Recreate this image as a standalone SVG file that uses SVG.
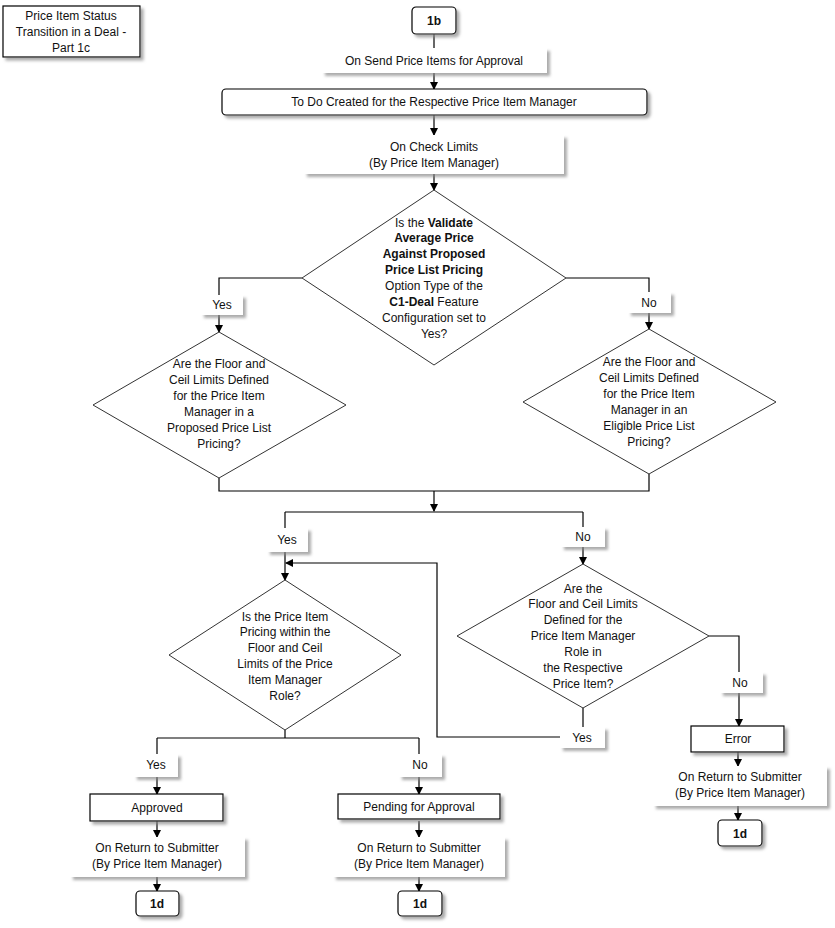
<svg xmlns="http://www.w3.org/2000/svg" width="835" height="928" viewBox="0 0 835 928">
<defs>
<filter id="sh" x="-10%" y="-20%" width="130%" height="160%">
<feDropShadow dx="3" dy="3" stdDeviation="1.5" flood-color="#888" flood-opacity="0.7"/>
</filter>
<marker id="ah" markerWidth="8" markerHeight="8" refX="7" refY="4" orient="auto" markerUnits="userSpaceOnUse">
<path d="M0,0 L8,4 L0,8 Z" fill="#000"/>
</marker>
<style>
text{font-family:"Liberation Sans",Arial,sans-serif;font-size:12px;fill:#111;text-anchor:middle}
.b{font-weight:bold}
.box{fill:#fff;stroke:#000;stroke-width:1.2}
.tb{fill:#fff;stroke:none}
.lb{fill:#fff;stroke:none}
.dia{fill:#fff;stroke:#333;stroke-width:1}
.c{fill:none;stroke:#000;stroke-width:1.2}
.ca{fill:none;stroke:#000;stroke-width:1.2;marker-end:url(#ah)}
</style>
</defs>
<rect width="835" height="928" fill="#fff"/>

<g id="connectors">
<path class="c" d="M434,34 V48"/>
<path class="ca" d="M434,73 V89"/>
<path class="ca" d="M434,115 V135"/>
<path class="ca" d="M434,174 V190"/>
<path class="ca" d="M302,278 H219 V332"/>
<path class="ca" d="M566,278 H649 V329"/>
<path class="c" d="M219,478 V491 H649 V474"/>
<path class="ca" d="M434,491 V511"/>
<path class="c" d="M285,512 H583"/>
<path class="ca" d="M285,512 V580"/>
<path class="ca" d="M583,512 V564"/>
<path class="ca" d="M560,737 H437 V563 H286"/>
<path class="c" d="M583,708 V727"/>
<path class="ca" d="M709,636 H739 V726"/>
<path class="ca" d="M738,752 V766"/>
<path class="ca" d="M738,806 V820"/>
<path class="c" d="M285,730 V738"/>
<path class="c" d="M157,738 H419"/>
<path class="ca" d="M157,738 V794"/>
<path class="ca" d="M419,738 V794"/>
<path class="ca" d="M157,821 V837"/>
<path class="ca" d="M157,877 V891"/>
<path class="ca" d="M419,821 V837"/>
<path class="ca" d="M419,877 V891"/>
</g>

<g id="title">
<rect class="box" x="3" y="6" width="137" height="51" filter="url(#sh)"/>
<text x="71" y="20">Price Item Status</text>
<text x="71" y="36">Transition in a Deal -</text>
<text x="71" y="52">Part 1c</text>
</g>

<g id="n1b">
<rect class="box" x="412" y="7" width="44" height="27" rx="4" filter="url(#sh)"/>
<text class="b" x="434" y="25">1b</text>
</g>

<g id="send">
<rect class="tb" x="322" y="48" width="225" height="25" filter="url(#sh)"/>
<text x="434" y="65">On Send Price Items for Approval</text>
</g>

<g id="todo">
<rect class="box" x="222" y="89" width="425" height="26" rx="4" filter="url(#sh)"/>
<text x="434" y="106">To Do Created for the Respective Price Item Manager</text>
</g>

<g id="check">
<rect class="tb" x="304" y="135" width="260" height="39" filter="url(#sh)"/>
<text x="434" y="151">On Check Limits</text>
<text x="434" y="167">(By Price Item Manager)</text>
</g>

<g id="d1">
<polygon class="dia" points="434,190 566,278 434,365 302,278"/>
<text x="434" y="227">Is the <tspan class="b">Validate</tspan></text>
<text class="b" x="434" y="242">Average Price</text>
<text class="b" x="434" y="258">Against Proposed</text>
<text class="b" x="434" y="274">Price List Pricing</text>
<text x="434" y="290">Option Type of the</text>
<text x="434" y="306"><tspan class="b">C1-Deal</tspan> Feature</text>
<text x="434" y="322">Configuration set to</text>
<text x="434" y="338">Yes?</text>
</g>

<g id="l-yes1">
<rect class="lb" x="201" y="295" width="42" height="20" filter="url(#sh)"/>
<text x="222" y="309">Yes</text>
</g>
<g id="l-no1">
<rect class="lb" x="628" y="292" width="43" height="21" filter="url(#sh)"/>
<text x="649" y="307">No</text>
</g>

<g id="d2l">
<polygon class="dia" points="219,332 346,405 219,478 93,405"/>
<text x="219" y="368">Are the Floor and</text>
<text x="219" y="384">Ceil Limits Defined</text>
<text x="219" y="400">for the Price Item</text>
<text x="219" y="416">Manager in a</text>
<text x="219" y="432">Proposed Price List</text>
<text x="219" y="448">Pricing?</text>
</g>

<g id="d2r">
<polygon class="dia" points="649,329 776,402 649,474 523,402"/>
<text x="649" y="366">Are the Floor and</text>
<text x="649" y="382">Ceil Limits Defined</text>
<text x="649" y="398">for the Price Item</text>
<text x="649" y="414">Manager in an</text>
<text x="649" y="430">Eligible Price List</text>
<text x="649" y="446">Pricing?</text>
</g>

<g id="l-yes2">
<rect class="lb" x="267" y="528" width="41" height="24" filter="url(#sh)"/>
<text x="287" y="544">Yes</text>
</g>
<g id="l-no2">
<rect class="lb" x="561" y="527" width="44" height="20" filter="url(#sh)"/>
<text x="583" y="541">No</text>
</g>

<g id="d3">
<polygon class="dia" points="285,580 401,655 285,730 169,655"/>
<text x="285" y="621">Is the Price Item</text>
<text x="285" y="636">Pricing within the</text>
<text x="285" y="652">Floor and Ceil</text>
<text x="285" y="668">Limits of the Price</text>
<text x="285" y="684">Item Manager</text>
<text x="285" y="700">Role?</text>
</g>

<g id="d4">
<polygon class="dia" points="583,564 709,636 583,708 457,636"/>
<text x="583" y="593">Are the</text>
<text x="583" y="608">Floor and Ceil Limits</text>
<text x="583" y="624">Defined for the</text>
<text x="583" y="640">Price Item Manager</text>
<text x="583" y="656">Role in</text>
<text x="583" y="672">the Respective</text>
<text x="583" y="688">Price Item?</text>
</g>

<g id="l-yes4">
<rect class="lb" x="560" y="727" width="45" height="21" filter="url(#sh)"/>
<text x="582" y="742">Yes</text>
</g>
<g id="l-no4">
<rect class="lb" x="720" y="672" width="43" height="21" filter="url(#sh)"/>
<text x="740" y="687">No</text>
</g>

<g id="error">
<rect class="box" x="691" y="726" width="93" height="26" filter="url(#sh)"/>
<text x="738" y="743">Error</text>
</g>
<g id="ret3">
<rect class="tb" x="653" y="766" width="174" height="40" filter="url(#sh)"/>
<text x="740" y="781">On Return to Submitter</text>
<text x="740" y="797">(By Price Item Manager)</text>
</g>
<g id="d1c">
<rect class="box" x="718" y="820" width="44" height="26" rx="4" filter="url(#sh)"/>
<text class="b" x="740" y="838">1d</text>
</g>

<g id="l-yes3">
<rect class="lb" x="134" y="754" width="44" height="23" filter="url(#sh)"/>
<text x="156" y="769">Yes</text>
</g>
<g id="l-no3">
<rect class="lb" x="399" y="754" width="43" height="23" filter="url(#sh)"/>
<text x="420" y="769">No</text>
</g>

<g id="approved">
<rect class="box" x="90" y="794" width="133" height="27" filter="url(#sh)"/>
<text x="157" y="812">Approved</text>
</g>
<g id="ret1">
<rect class="tb" x="70" y="837" width="175" height="40" filter="url(#sh)"/>
<text x="157" y="852">On Return to Submitter</text>
<text x="157" y="868">(By Price Item Manager)</text>
</g>
<g id="d1a">
<rect class="box" x="136" y="891" width="43" height="25" rx="4" filter="url(#sh)"/>
<text class="b" x="157" y="908">1d</text>
</g>

<g id="pending">
<rect class="box" x="338" y="794" width="162" height="25" filter="url(#sh)"/>
<text x="419" y="811">Pending for Approval</text>
</g>
<g id="ret2">
<rect class="tb" x="333" y="837" width="172" height="40" filter="url(#sh)"/>
<text x="419" y="852">On Return to Submitter</text>
<text x="419" y="868">(By Price Item Manager)</text>
</g>
<g id="d1b">
<rect class="box" x="398" y="891" width="44" height="25" rx="4" filter="url(#sh)"/>
<text class="b" x="420" y="908">1d</text>
</g>
</svg>
